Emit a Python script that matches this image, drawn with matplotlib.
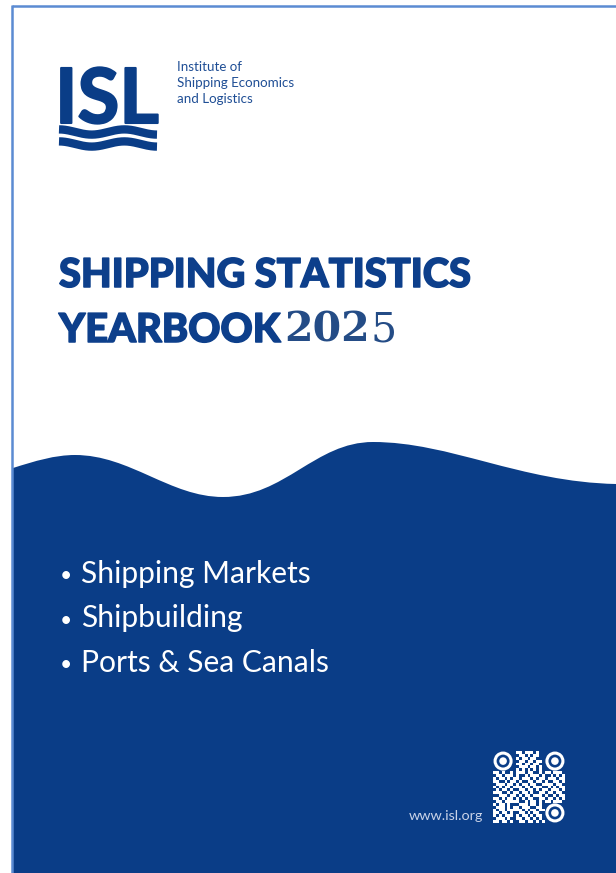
import numpy as np
import matplotlib
matplotlib.use("Agg")
import matplotlib.pyplot as plt
import matplotlib.patheffects as pe
from matplotlib.path import Path
from matplotlib.patches import PathPatch, Rectangle, Circle
from matplotlib.collections import PatchCollection

# Textos de la portada
logo_word = "ISL"
logo_lines = ["Institute of", "Shipping Economics", "and Logistics"]
title_lines = ["SHIPPING STATISTICS", "YEARBOOK"]
year_bold = "202"
year_light = "5"
topics = ["Shipping Markets", "Shipbuilding", "Ports & Sea Canals"]
website = "www.isl.org"

# Patron del codigo QR (1 = modulo blanco, '.' = zona del localizador)
qr_rows = [
    ".......01101110100.......",
    ".......00110101100.......",
    ".......01011011000.......",
    ".......00110110110.......",
    ".......01101101100.......",
    ".......00111011010.......",
    ".......01010101010.......",
    "1101001011101100101101110",
    "0110111010010111010010101",
    "1011010110111010110111011",
    "1100101101001101101001101",
    "0111011010110110011110110",
    "1010110111011011100101011",
    "0101101001101101011011101",
    "1110010110110100110110110",
    "0011101101011011101001011",
    "1101011010101100110110101",
    "0110111110010110101101110",
    "101101000111011010.......",
    "011101011011100110.......",
    "101101111101011011.......",
    "110110100110101100.......",
    "101011101011010110.......",
    "011101001101101010.......",
    "110110100110110101.......",
]

BLUE = "#0a3d87"
TITLE = "#0d3f8b"
EDGE = "#5b8bd2"
HEAVY = ["Lato Black", "Lato"]

fig = plt.figure(figsize=(6.16, 8.73), dpi=100)
ax = fig.add_axes([0, 0, 1, 1])
ax.set_xlim(0, 616)
ax.set_ylim(873, 0)
ax.axis("off")
renderer = fig.canvas.get_renderer()


def fit_text(x, y, s, width, **kw):
    # ajusta el tamano de letra para que el texto ocupe 'width' pixeles
    t = ax.text(x, y, s, va="baseline", ha="left", **kw)
    w = t.get_window_extent(renderer).width
    t.set_fontsize(t.get_fontsize() * width / w)
    return t


def right_edge(t):
    bb = t.get_window_extent(renderer)
    return ax.transData.inverted().transform((bb.x1, bb.y0))[0]


# Borde azul claro (izquierda y arriba)
ax.plot([12, 12], [5, 873], color=EDGE, lw=1.8, solid_capstyle="butt")
ax.plot([12, 616], [6, 6], color=EDGE, lw=1.8, solid_capstyle="butt")

# Ola inferior
verts = [(13, 468),
         (35, 461), (55, 455), (75, 455),
         (130, 455), (170, 497), (223, 497),
         (285, 497), (315, 442), (373, 442),
         (450, 442), (520, 482), (616, 484),
         (616, 873), (13, 873), (13, 468)]
codes = [Path.MOVETO] + [Path.CURVE4] * 12 + [Path.LINETO] * 2 + [Path.CLOSEPOLY]
ax.add_patch(PathPatch(Path(verts, codes), facecolor=BLUE, edgecolor="none"))

# Logo ISL
fit_text(55, 123, logo_word, 104, fontsize=60, fontfamily="Lato", fontweight="bold",
         color=BLUE, path_effects=[pe.withStroke(linewidth=1.5, foreground=BLUE)])
xs = np.linspace(59, 157, 200)
for y0 in [132, 144]:
    ax.plot(xs, y0 - 2.6 * np.cos((xs - 59) / 98 * 3 * np.pi),
            color=BLUE, lw=6.0, solid_capstyle="butt")

for i, line in enumerate(logo_lines):
    ax.text(177, 71 + 16 * i, line, fontsize=9.6, fontfamily="Lato",
            color="#1f4e95", va="baseline", ha="left")

# Titulo
heavy = [pe.withStroke(linewidth=1.1, foreground=TITLE)]
t1 = fit_text(59, 287, title_lines[0], 412, fontsize=25, fontfamily=HEAVY,
              fontweight="black", color=TITLE, path_effects=heavy)
fs = t1.get_fontsize()
t2 = ax.text(59, 342, title_lines[1], fontsize=fs, fontfamily=HEAVY, fontweight="black",
             color=TITLE, va="baseline", ha="left", path_effects=heavy)
x_year = right_edge(t2) + 4
ty = fit_text(x_year, 342, year_bold, 86, fontsize=27, fontfamily="DejaVu Serif",
              fontweight="bold", color="#244c86")
ax.text(right_edge(ty) + 1, 342, year_light, fontsize=ty.get_fontsize(),
        fontfamily="DejaVu Serif", fontweight="normal", color="#244c86",
        va="baseline", ha="left")

# Lista de temas
t0 = fit_text(81, 583, topics[0], 230, fontsize=20, fontfamily="Lato", color="white")
for i, topic in enumerate(topics):
    yb = 583 + 44.5 * i
    ax.text(60, yb - 1, "\u2022", fontsize=t0.get_fontsize() * 0.7, fontfamily="Lato",
            color="white", va="baseline", ha="left")
    if i > 0:
        ax.text(81, yb, topic, fontsize=t0.get_fontsize(), fontfamily="Lato",
                color="white", va="baseline", ha="left")

fit_text(409, 820, website, 75, fontsize=9, fontfamily="Lato", color="#c9d3e8")

# Codigo QR
qx, qy, qs = 493, 751, 72 / 25
cells = []
for r, row in enumerate(qr_rows):
    for c, ch in enumerate(row):
        if ch == "1":
            cells.append(Rectangle((qx + c * qs, qy + r * qs), qs, qs))
ax.add_collection(PatchCollection(cells, facecolor="white", edgecolor="none"))
for cx, cy in [(qx + 3.5 * qs, qy + 3.5 * qs), (qx + 21.5 * qs, qy + 3.5 * qs),
               (qx + 21.5 * qs, qy + 21.5 * qs)]:
    ax.add_patch(Circle((cx, cy), 8.0, facecolor="none", edgecolor="white", lw=2.2))
    ax.add_patch(Circle((cx, cy), 3.8, facecolor="white", edgecolor="none"))

fig.savefig("out.png", dpi=100)
